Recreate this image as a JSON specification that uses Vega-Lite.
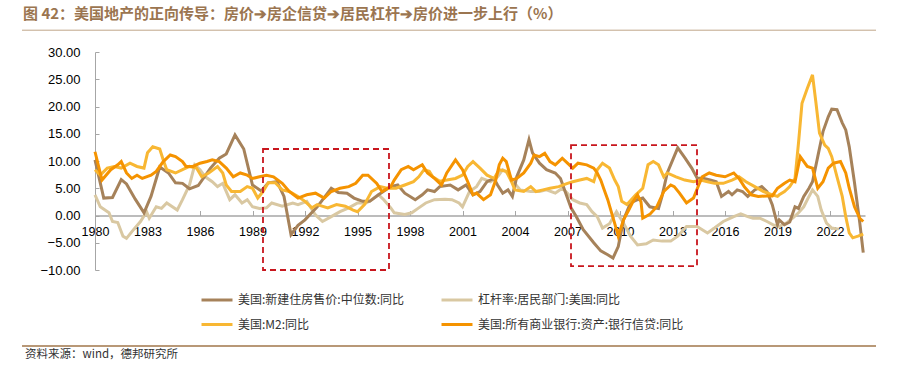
{
  "$schema": "https://vega.github.io/schema/vega-lite/v6.json",
  "width": 770,
  "height": 218,
  "autosize": {"type": "none"},
  "padding": {"left": 95, "top": 52, "right": 32, "bottom": 99},
  "background": "white",
  "config": {"view": {"stroke": null}, "font": "Liberation Sans"},
  "title": {
    "text": "图 42：美国地产的正向传导：房价➔房企信贷➔居民杠杆➔房价进一步上行（%）",
    "anchor": "start",
    "frame": "group",
    "font": "Noto Sans CJK SC",
    "fontSize": 15,
    "fontWeight": "bold",
    "color": "#9B7550",
    "dx": -72,
    "offset": 8
  },
  "datasets": {
    "boxes": [
      {"x1": 1989.6, "x2": 1996.8, "y1": 12.2, "y2": -10},
      {"x1": 2007.2, "x2": 2014.4, "y1": 12.9, "y2": -9.3}
    ],
    "deco": [
      {"x1": 1975.83, "x2": 2024.63, "y": 34.0, "kind": "top"},
      {"x1": 1975.83, "x2": 2024.63, "y": -23.94, "kind": "bottom"}
    ],
    "notes": [
      {"x": 1976.0, "y": -25.6, "text": "资料来源：wind，德邦研究所"}
    ],
    "lines": [
      {"series":"杠杆率:居民部门:美国:同比","year":1980.0,"value":3.8},
      {"series":"杠杆率:居民部门:美国:同比","year":1980.3,"value":1.6},
      {"series":"杠杆率:居民部门:美国:同比","year":1980.8,"value":0.5},
      {"series":"杠杆率:居民部门:美国:同比","year":1981.0,"value":-1.1},
      {"series":"杠杆率:居民部门:美国:同比","year":1981.3,"value":-1.3},
      {"series":"杠杆率:居民部门:美国:同比","year":1981.6,"value":-3.8},
      {"series":"杠杆率:居民部门:美国:同比","year":1981.8,"value":-4.2},
      {"series":"杠杆率:居民部门:美国:同比","year":1982.2,"value":-2.6},
      {"series":"杠杆率:居民部门:美国:同比","year":1982.6,"value":-1.1},
      {"series":"杠杆率:居民部门:美国:同比","year":1982.95,"value":0.7},
      {"series":"杠杆率:居民部门:美国:同比","year":1983.1,"value":-0.5},
      {"series":"杠杆率:居民部门:美国:同比","year":1983.5,"value":1.6},
      {"series":"杠杆率:居民部门:美国:同比","year":1983.8,"value":1.3},
      {"series":"杠杆率:居民部门:美国:同比","year":1984.1,"value":2.3},
      {"series":"杠杆率:居民部门:美国:同比","year":1984.7,"value":1.0},
      {"series":"杠杆率:居民部门:美国:同比","year":1985.0,"value":2.9},
      {"series":"杠杆率:居民部门:美国:同比","year":1985.4,"value":5.6},
      {"series":"杠杆率:居民部门:美国:同比","year":1985.7,"value":9.3},
      {"series":"杠杆率:居民部门:美国:同比","year":1986.0,"value":8.4},
      {"series":"杠杆率:居民部门:美国:同比","year":1986.3,"value":7.1},
      {"series":"杠杆率:居民部门:美国:同比","year":1986.7,"value":6.2},
      {"series":"杠杆率:居民部门:美国:同比","year":1987.0,"value":5.3},
      {"series":"杠杆率:居民部门:美国:同比","year":1987.3,"value":5.9},
      {"series":"杠杆率:居民部门:美国:同比","year":1987.7,"value":2.9},
      {"series":"杠杆率:居民部门:美国:同比","year":1988.0,"value":3.8},
      {"series":"杠杆率:居民部门:美国:同比","year":1988.4,"value":2.3},
      {"series":"杠杆率:居民部门:美国:同比","year":1988.7,"value":2.9},
      {"series":"杠杆率:居民部门:美国:同比","year":1989.0,"value":1.6},
      {"series":"杠杆率:居民部门:美国:同比","year":1989.4,"value":1.3},
      {"series":"杠杆率:居民部门:美国:同比","year":1989.8,"value":1.4},
      {"series":"杠杆率:居民部门:美国:同比","year":1990.1,"value":2.3},
      {"series":"杠杆率:居民部门:美国:同比","year":1990.7,"value":1.7},
      {"series":"杠杆率:居民部门:美国:同比","year":1991.3,"value":2.3},
      {"series":"杠杆率:居民部门:美国:同比","year":1991.6,"value":2.0},
      {"series":"杠杆率:居民部门:美国:同比","year":1992.1,"value":2.6},
      {"series":"杠杆率:居民部门:美国:同比","year":1992.6,"value":0.1},
      {"series":"杠杆率:居民部门:美国:同比","year":1993.0,"value":-1.1},
      {"series":"杠杆率:居民部门:美国:同比","year":1993.5,"value":-0.2},
      {"series":"杠杆率:居民部门:美国:同比","year":1994.0,"value":0.7},
      {"series":"杠杆率:居民部门:美国:同比","year":1994.5,"value":1.4},
      {"series":"杠杆率:居民部门:美国:同比","year":1995.0,"value":2.3},
      {"series":"杠杆率:居民部门:美国:同比","year":1995.5,"value":2.3},
      {"series":"杠杆率:居民部门:美国:同比","year":1995.8,"value":2.9},
      {"series":"杠杆率:居民部门:美国:同比","year":1996.2,"value":3.8},
      {"series":"杠杆率:居民部门:美国:同比","year":1996.5,"value":2.9},
      {"series":"杠杆率:居民部门:美国:同比","year":1996.9,"value":1.4},
      {"series":"杠杆率:居民部门:美国:同比","year":1997.1,"value":0.5},
      {"series":"杠杆率:居民部门:美国:同比","year":1997.7,"value":0.2},
      {"series":"杠杆率:居民部门:美国:同比","year":1998.1,"value":0.5},
      {"series":"杠杆率:居民部门:美国:同比","year":1998.5,"value":1.4},
      {"series":"杠杆率:居民部门:美国:同比","year":1998.9,"value":2.3},
      {"series":"杠杆率:居民部门:美国:同比","year":1999.4,"value":2.9},
      {"series":"杠杆率:居民部门:美国:同比","year":2000.0,"value":3.0},
      {"series":"杠杆率:居民部门:美国:同比","year":2000.4,"value":2.9},
      {"series":"杠杆率:居民部门:美国:同比","year":2000.8,"value":2.3},
      {"series":"杠杆率:居民部门:美国:同比","year":2001.0,"value":1.6},
      {"series":"杠杆率:居民部门:美国:同比","year":2001.4,"value":4.4},
      {"series":"杠杆率:居民部门:美国:同比","year":2001.8,"value":5.3},
      {"series":"杠杆率:居民部门:美国:同比","year":2002.1,"value":6.8},
      {"series":"杠杆率:居民部门:美国:同比","year":2002.6,"value":6.2},
      {"series":"杠杆率:居民部门:美国:同比","year":2003.0,"value":7.1},
      {"series":"杠杆率:居民部门:美国:同比","year":2003.3,"value":8.4},
      {"series":"杠杆率:居民部门:美国:同比","year":2003.6,"value":7.8},
      {"series":"杠杆率:居民部门:美国:同比","year":2003.9,"value":6.2},
      {"series":"杠杆率:居民部门:美国:同比","year":2004.3,"value":4.7},
      {"series":"杠杆率:居民部门:美国:同比","year":2004.9,"value":4.4},
      {"series":"杠杆率:居民部门:美国:同比","year":2005.4,"value":4.4},
      {"series":"杠杆率:居民部门:美国:同比","year":2005.8,"value":4.7},
      {"series":"杠杆率:居民部门:美国:同比","year":2006.3,"value":4.1},
      {"series":"杠杆率:居民部门:美国:同比","year":2006.7,"value":5.0},
      {"series":"杠杆率:居民部门:美国:同比","year":2007.0,"value":4.1},
      {"series":"杠杆率:居民部门:美国:同比","year":2007.3,"value":2.9},
      {"series":"杠杆率:居民部门:美国:同比","year":2007.7,"value":2.3},
      {"series":"杠杆率:居民部门:美国:同比","year":2008.1,"value":2.0},
      {"series":"杠杆率:居民部门:美国:同比","year":2008.4,"value":0.7},
      {"series":"杠杆率:居民部门:美国:同比","year":2008.7,"value":-0.2},
      {"series":"杠杆率:居民部门:美国:同比","year":2009.0,"value":-2.3},
      {"series":"杠杆率:居民部门:美国:同比","year":2009.4,"value":-1.5},
      {"series":"杠杆率:居民部门:美国:同比","year":2009.8,"value":0.7},
      {"series":"杠杆率:居民部门:美国:同比","year":2010.2,"value":-1.4},
      {"series":"杠杆率:居民部门:美国:同比","year":2010.6,"value":-3.8},
      {"series":"杠杆率:居民部门:美国:同比","year":2011.0,"value":-5.4},
      {"series":"杠杆率:居民部门:美国:同比","year":2011.5,"value":-5.2},
      {"series":"杠杆率:居民部门:美国:同比","year":2011.9,"value":-4.5},
      {"series":"杠杆率:居民部门:美国:同比","year":2012.4,"value":-4.7},
      {"series":"杠杆率:居民部门:美国:同比","year":2012.9,"value":-4.7},
      {"series":"杠杆率:居民部门:美国:同比","year":2013.3,"value":-3.8},
      {"series":"杠杆率:居民部门:美国:同比","year":2013.8,"value":-2.0},
      {"series":"杠杆率:居民部门:美国:同比","year":2014.4,"value":-2.0},
      {"series":"杠杆率:居民部门:美国:同比","year":2015.0,"value":-3.2},
      {"series":"杠杆率:居民部门:美国:同比","year":2015.4,"value":-2.3},
      {"series":"杠杆率:居民部门:美国:同比","year":2015.9,"value":-1.1},
      {"series":"杠杆率:居民部门:美国:同比","year":2016.5,"value":-0.2},
      {"series":"杠杆率:居民部门:美国:同比","year":2016.9,"value":0.3},
      {"series":"杠杆率:居民部门:美国:同比","year":2017.3,"value":-0.2},
      {"series":"杠杆率:居民部门:美国:同比","year":2017.6,"value":-0.5},
      {"series":"杠杆率:居民部门:美国:同比","year":2018.0,"value":-0.5},
      {"series":"杠杆率:居民部门:美国:同比","year":2018.4,"value":-1.1},
      {"series":"杠杆率:居民部门:美国:同比","year":2018.8,"value":-1.8},
      {"series":"杠杆率:居民部门:美国:同比","year":2019.1,"value":-2.0},
      {"series":"杠杆率:居民部门:美国:同比","year":2019.5,"value":-1.4},
      {"series":"杠杆率:居民部门:美国:同比","year":2019.9,"value":-0.4},
      {"series":"杠杆率:居民部门:美国:同比","year":2020.2,"value":0.5},
      {"series":"杠杆率:居民部门:美国:同比","year":2020.5,"value":1.6},
      {"series":"杠杆率:居民部门:美国:同比","year":2020.8,"value":3.5},
      {"series":"杠杆率:居民部门:美国:同比","year":2021.0,"value":4.7},
      {"series":"杠杆率:居民部门:美国:同比","year":2021.3,"value":3.5},
      {"series":"杠杆率:居民部门:美国:同比","year":2021.5,"value":1.0},
      {"series":"杠杆率:居民部门:美国:同比","year":2021.8,"value":-1.4},
      {"series":"杠杆率:居民部门:美国:同比","year":2022.1,"value":-2.3},
      {"series":"杠杆率:居民部门:美国:同比","year":2022.5,"value":-2.5},

      {"series":"美国:新建住房售价:中位数:同比","year":1980.0,"value":10.2},
      {"series":"美国:新建住房售价:中位数:同比","year":1980.5,"value":3.2},
      {"series":"美国:新建住房售价:中位数:同比","year":1981.0,"value":3.3},
      {"series":"美国:新建住房售价:中位数:同比","year":1981.5,"value":6.6},
      {"series":"美国:新建住房售价:中位数:同比","year":1981.8,"value":5.8},
      {"series":"美国:新建住房售价:中位数:同比","year":1982.3,"value":3.0},
      {"series":"美国:新建住房售价:中位数:同比","year":1982.8,"value":0.5},
      {"series":"美国:新建住房售价:中位数:同比","year":1983.2,"value":3.5},
      {"series":"美国:新建住房售价:中位数:同比","year":1983.7,"value":8.9},
      {"series":"美国:新建住房售价:中位数:同比","year":1984.2,"value":7.8},
      {"series":"美国:新建住房售价:中位数:同比","year":1984.6,"value":6.0},
      {"series":"美国:新建住房售价:中位数:同比","year":1985.0,"value":5.9},
      {"series":"美国:新建住房售价:中位数:同比","year":1985.4,"value":4.9},
      {"series":"美国:新建住房售价:中位数:同比","year":1985.9,"value":5.5},
      {"series":"美国:新建住房售价:中位数:同比","year":1986.6,"value":8.7},
      {"series":"美国:新建住房售价:中位数:同比","year":1987.1,"value":10.5},
      {"series":"美国:新建住房售价:中位数:同比","year":1987.5,"value":11.3},
      {"series":"美国:新建住房售价:中位数:同比","year":1988.0,"value":14.8},
      {"series":"美国:新建住房售价:中位数:同比","year":1988.5,"value":12.2},
      {"series":"美国:新建住房售价:中位数:同比","year":1989.0,"value":5.6},
      {"series":"美国:新建住房售价:中位数:同比","year":1989.5,"value":4.5},
      {"series":"美国:新建住房售价:中位数:同比","year":1989.9,"value":6.0},
      {"series":"美国:新建住房售价:中位数:同比","year":1990.4,"value":6.2},
      {"series":"美国:新建住房售价:中位数:同比","year":1990.8,"value":3.5},
      {"series":"美国:新建住房售价:中位数:同比","year":1991.2,"value":-3.5},
      {"series":"美国:新建住房售价:中位数:同比","year":1991.6,"value":-1.8},
      {"series":"美国:新建住房售价:中位数:同比","year":1992.0,"value":-0.8},
      {"series":"美国:新建住房售价:中位数:同比","year":1992.7,"value":1.6},
      {"series":"美国:新建住房售价:中位数:同比","year":1993.5,"value":5.0},
      {"series":"美国:新建住房售价:中位数:同比","year":1993.9,"value":4.2},
      {"series":"美国:新建住房售价:中位数:同比","year":1994.4,"value":4.1},
      {"series":"美国:新建住房售价:中位数:同比","year":1994.8,"value":3.2},
      {"series":"美国:新建住房售价:中位数:同比","year":1995.3,"value":2.6},
      {"series":"美国:新建住房售价:中位数:同比","year":1995.7,"value":2.6},
      {"series":"美国:新建住房售价:中位数:同比","year":1996.2,"value":3.8},
      {"series":"美国:新建住房售价:中位数:同比","year":1996.9,"value":5.3},
      {"series":"美国:新建住房售价:中位数:同比","year":1997.3,"value":5.6},
      {"series":"美国:新建住房售价:中位数:同比","year":1997.7,"value":4.1},
      {"series":"美国:新建住房售价:中位数:同比","year":1998.3,"value":2.9},
      {"series":"美国:新建住房售价:中位数:同比","year":1998.7,"value":3.8},
      {"series":"美国:新建住房售价:中位数:同比","year":1999.0,"value":4.7},
      {"series":"美国:新建住房售价:中位数:同比","year":1999.4,"value":4.4},
      {"series":"美国:新建住房售价:中位数:同比","year":1999.7,"value":5.3},
      {"series":"美国:新建住房售价:中位数:同比","year":2000.3,"value":5.6},
      {"series":"美国:新建住房售价:中位数:同比","year":2000.75,"value":4.7},
      {"series":"美国:新建住房售价:中位数:同比","year":2001.2,"value":5.6},
      {"series":"美国:新建住房售价:中位数:同比","year":2001.6,"value":3.8},
      {"series":"美国:新建住房售价:中位数:同比","year":2002.0,"value":4.4},
      {"series":"美国:新建住房售价:中位数:同比","year":2002.4,"value":6.2},
      {"series":"美国:新建住房售价:中位数:同比","year":2002.8,"value":6.8},
      {"series":"美国:新建住房售价:中位数:同比","year":2003.0,"value":5.6},
      {"series":"美国:新建住房售价:中位数:同比","year":2003.3,"value":4.1},
      {"series":"美国:新建住房售价:中位数:同比","year":2003.6,"value":4.7},
      {"series":"美国:新建住房售价:中位数:同比","year":2003.85,"value":3.5},
      {"series":"美国:新建住房售价:中位数:同比","year":2004.1,"value":7.1},
      {"series":"美国:新建住房售价:中位数:同比","year":2004.5,"value":10.2},
      {"series":"美国:新建住房售价:中位数:同比","year":2004.8,"value":13.9},
      {"series":"美国:新建住房售价:中位数:同比","year":2005.0,"value":11.5},
      {"series":"美国:新建住房售价:中位数:同比","year":2005.4,"value":9.6},
      {"series":"美国:新建住房售价:中位数:同比","year":2005.8,"value":8.4},
      {"series":"美国:新建住房售价:中位数:同比","year":2006.3,"value":7.8},
      {"series":"美国:新建住房售价:中位数:同比","year":2006.6,"value":6.8},
      {"series":"美国:新建住房售价:中位数:同比","year":2006.9,"value":4.1},
      {"series":"美国:新建住房售价:中位数:同比","year":2007.2,"value":1.4},
      {"series":"美国:新建住房售价:中位数:同比","year":2007.5,"value":-0.2},
      {"series":"美国:新建住房售价:中位数:同比","year":2007.9,"value":-2.6},
      {"series":"美国:新建住房售价:中位数:同比","year":2008.5,"value":-5.0},
      {"series":"美国:新建住房售价:中位数:同比","year":2008.9,"value":-6.5},
      {"series":"美国:新建住房售价:中位数:同比","year":2009.3,"value":-7.2},
      {"series":"美国:新建住房售价:中位数:同比","year":2009.6,"value":-7.8},
      {"series":"美国:新建住房售价:中位数:同比","year":2009.9,"value":-5.7},
      {"series":"美国:新建住房售价:中位数:同比","year":2010.2,"value":-0.8},
      {"series":"美国:新建住房售价:中位数:同比","year":2010.6,"value":2.3},
      {"series":"美国:新建住房售价:中位数:同比","year":2011.0,"value":2.9},
      {"series":"美国:新建住房售价:中位数:同比","year":2011.3,"value":3.2},
      {"series":"美国:新建住房售价:中位数:同比","year":2011.7,"value":1.6},
      {"series":"美国:新建住房售价:中位数:同比","year":2012.2,"value":1.3},
      {"series":"美国:新建住房售价:中位数:同比","year":2012.4,"value":3.5},
      {"series":"美国:新建住房售价:中位数:同比","year":2012.7,"value":7.8},
      {"series":"美国:新建住房售价:中位数:同比","year":2013.3,"value":12.4},
      {"series":"美国:新建住房售价:中位数:同比","year":2013.7,"value":10.6},
      {"series":"美国:新建住房售价:中位数:同比","year":2014.1,"value":8.7},
      {"series":"美国:新建住房售价:中位数:同比","year":2014.4,"value":6.9},
      {"series":"美国:新建住房售价:中位数:同比","year":2014.8,"value":6.8},
      {"series":"美国:新建住房售价:中位数:同比","year":2015.2,"value":6.5},
      {"series":"美国:新建住房售价:中位数:同比","year":2015.5,"value":6.2},
      {"series":"美国:新建住房售价:中位数:同比","year":2015.8,"value":3.5},
      {"series":"美国:新建住房售价:中位数:同比","year":2016.2,"value":4.4},
      {"series":"美国:新建住房售价:中位数:同比","year":2016.4,"value":3.8},
      {"series":"美国:新建住房售价:中位数:同比","year":2016.7,"value":4.7},
      {"series":"美国:新建住房售价:中位数:同比","year":2017.0,"value":4.4},
      {"series":"美国:新建住房售价:中位数:同比","year":2017.3,"value":3.5},
      {"series":"美国:新建住房售价:中位数:同比","year":2017.7,"value":4.7},
      {"series":"美国:新建住房售价:中位数:同比","year":2018.1,"value":5.3},
      {"series":"美国:新建住房售价:中位数:同比","year":2018.4,"value":4.4},
      {"series":"美国:新建住房售价:中位数:同比","year":2018.7,"value":2.0},
      {"series":"美国:新建住房售价:中位数:同比","year":2019.0,"value":-1.7},
      {"series":"美国:新建住房售价:中位数:同比","year":2019.1,"value":-0.8},
      {"series":"美国:新建住房售价:中位数:同比","year":2019.4,"value":-1.7},
      {"series":"美国:新建住房售价:中位数:同比","year":2019.7,"value":-1.2},
      {"series":"美国:新建住房售价:中位数:同比","year":2020.0,"value":1.6},
      {"series":"美国:新建住房售价:中位数:同比","year":2020.2,"value":1.3},
      {"series":"美国:新建住房售价:中位数:同比","year":2020.5,"value":3.5},
      {"series":"美国:新建住房售价:中位数:同比","year":2020.8,"value":5.0},
      {"series":"美国:新建住房售价:中位数:同比","year":2021.0,"value":6.2},
      {"series":"美国:新建住房售价:中位数:同比","year":2021.3,"value":10.8},
      {"series":"美国:新建住房售价:中位数:同比","year":2021.6,"value":15.4},
      {"series":"美国:新建住房售价:中位数:同比","year":2021.9,"value":18.1},
      {"series":"美国:新建住房售价:中位数:同比","year":2022.1,"value":19.5},
      {"series":"美国:新建住房售价:中位数:同比","year":2022.4,"value":19.4},
      {"series":"美国:新建住房售价:中位数:同比","year":2022.7,"value":17.0},
      {"series":"美国:新建住房售价:中位数:同比","year":2022.9,"value":15.7},
      {"series":"美国:新建住房售价:中位数:同比","year":2023.1,"value":12.6},
      {"series":"美国:新建住房售价:中位数:同比","year":2023.4,"value":6.0},
      {"series":"美国:新建住房售价:中位数:同比","year":2023.7,"value":-1.3},
      {"series":"美国:新建住房售价:中位数:同比","year":2023.9,"value":-6.8},

      {"series":"美国:M2:同比","year":1980.0,"value":8.4},
      {"series":"美国:M2:同比","year":1980.3,"value":7.4},
      {"series":"美国:M2:同比","year":1980.7,"value":8.7},
      {"series":"美国:M2:同比","year":1981.1,"value":9.0},
      {"series":"美国:M2:同比","year":1981.5,"value":8.7},
      {"series":"美国:M2:同比","year":1982.0,"value":9.6},
      {"series":"美国:M2:同比","year":1982.4,"value":9.0},
      {"series":"美国:M2:同比","year":1982.8,"value":8.7},
      {"series":"美国:M2:同比","year":1983.0,"value":11.5},
      {"series":"美国:M2:同比","year":1983.3,"value":12.6},
      {"series":"美国:M2:同比","year":1983.7,"value":12.2},
      {"series":"美国:M2:同比","year":1983.9,"value":10.2},
      {"series":"美国:M2:同比","year":1984.1,"value":8.4},
      {"series":"美国:M2:同比","year":1984.6,"value":7.8},
      {"series":"美国:M2:同比","year":1985.0,"value":8.4},
      {"series":"美国:M2:同比","year":1985.4,"value":9.0},
      {"series":"美国:M2:同比","year":1985.8,"value":8.7},
      {"series":"美国:M2:同比","year":1986.1,"value":7.1},
      {"series":"美国:M2:同比","year":1986.5,"value":7.8},
      {"series":"美国:M2:同比","year":1987.0,"value":9.0},
      {"series":"美国:M2:同比","year":1987.3,"value":7.8},
      {"series":"美国:M2:同比","year":1987.5,"value":5.6},
      {"series":"美国:M2:同比","year":1987.8,"value":4.4},
      {"series":"美国:M2:同比","year":1988.3,"value":4.4},
      {"series":"美国:M2:同比","year":1988.7,"value":5.3},
      {"series":"美国:M2:同比","year":1989.0,"value":5.0},
      {"series":"美国:M2:同比","year":1989.3,"value":3.2},
      {"series":"美国:M2:同比","year":1989.6,"value":4.4},
      {"series":"美国:M2:同比","year":1989.9,"value":6.0},
      {"series":"美国:M2:同比","year":1990.3,"value":6.0},
      {"series":"美国:M2:同比","year":1990.7,"value":4.7},
      {"series":"美国:M2:同比","year":1991.1,"value":4.4},
      {"series":"美国:M2:同比","year":1991.6,"value":3.5},
      {"series":"美国:M2:同比","year":1992.0,"value":2.6},
      {"series":"美国:M2:同比","year":1992.4,"value":1.4},
      {"series":"美国:M2:同比","year":1992.7,"value":2.0},
      {"series":"美国:M2:同比","year":1993.3,"value":1.4},
      {"series":"美国:M2:同比","year":1993.8,"value":2.0},
      {"series":"美国:M2:同比","year":1994.3,"value":1.7},
      {"series":"美国:M2:同比","year":1994.75,"value":1.0},
      {"series":"美国:M2:同比","year":1995.0,"value":0.7},
      {"series":"美国:M2:同比","year":1995.4,"value":2.0},
      {"series":"美国:M2:同比","year":1995.8,"value":4.4},
      {"series":"美国:M2:同比","year":1996.3,"value":5.3},
      {"series":"美国:M2:同比","year":1996.7,"value":5.0},
      {"series":"美国:M2:同比","year":1997.2,"value":5.0},
      {"series":"美国:M2:同比","year":1997.7,"value":5.6},
      {"series":"美国:M2:同比","year":1998.2,"value":6.2},
      {"series":"美国:M2:同比","year":1998.5,"value":7.1},
      {"series":"美国:M2:同比","year":1998.8,"value":8.4},
      {"series":"美国:M2:同比","year":1999.1,"value":8.1},
      {"series":"美国:M2:同比","year":1999.3,"value":7.1},
      {"series":"美国:M2:同比","year":1999.7,"value":6.3},
      {"series":"美国:M2:同比","year":2000.1,"value":6.5},
      {"series":"美国:M2:同比","year":2000.6,"value":6.8},
      {"series":"美国:M2:同比","year":2001.0,"value":7.4},
      {"series":"美国:M2:同比","year":2001.3,"value":9.0},
      {"series":"美国:M2:同比","year":2001.6,"value":9.9},
      {"series":"美国:M2:同比","year":2002.0,"value":8.7},
      {"series":"美国:M2:同比","year":2002.4,"value":7.4},
      {"series":"美国:M2:同比","year":2002.8,"value":6.8},
      {"series":"美国:M2:同比","year":2003.1,"value":8.4},
      {"series":"美国:M2:同比","year":2003.5,"value":8.1},
      {"series":"美国:M2:同比","year":2003.8,"value":6.2},
      {"series":"美国:M2:同比","year":2004.0,"value":4.7},
      {"series":"美国:M2:同比","year":2004.5,"value":4.4},
      {"series":"美国:M2:同比","year":2004.9,"value":5.3},
      {"series":"美国:M2:同比","year":2005.2,"value":4.4},
      {"series":"美国:M2:同比","year":2005.6,"value":4.7},
      {"series":"美国:M2:同比","year":2006.0,"value":5.0},
      {"series":"美国:M2:同比","year":2006.5,"value":5.3},
      {"series":"美国:M2:同比","year":2007.0,"value":5.9},
      {"series":"美国:M2:同比","year":2007.3,"value":6.2},
      {"series":"美国:M2:同比","year":2007.7,"value":6.5},
      {"series":"美国:M2:同比","year":2008.1,"value":6.8},
      {"series":"美国:M2:同比","year":2008.5,"value":6.2},
      {"series":"美国:M2:同比","year":2008.7,"value":8.4},
      {"series":"美国:M2:同比","year":2009.0,"value":9.6},
      {"series":"美国:M2:同比","year":2009.4,"value":8.7},
      {"series":"美国:M2:同比","year":2009.7,"value":6.5},
      {"series":"美国:M2:同比","year":2009.9,"value":5.3},
      {"series":"美国:M2:同比","year":2010.1,"value":2.6},
      {"series":"美国:M2:同比","year":2010.4,"value":2.0},
      {"series":"美国:M2:同比","year":2010.9,"value":3.8},
      {"series":"美国:M2:同比","year":2011.3,"value":5.0},
      {"series":"美国:M2:同比","year":2011.6,"value":9.3},
      {"series":"美国:M2:同比","year":2011.9,"value":9.9},
      {"series":"美国:M2:同比","year":2012.2,"value":9.3},
      {"series":"美国:M2:同比","year":2012.5,"value":7.1},
      {"series":"美国:M2:同比","year":2012.7,"value":7.8},
      {"series":"美国:M2:同比","year":2013.2,"value":7.1},
      {"series":"美国:M2:同比","year":2013.7,"value":6.5},
      {"series":"美国:M2:同比","year":2014.2,"value":6.2},
      {"series":"美国:M2:同比","year":2014.6,"value":6.5},
      {"series":"美国:M2:同比","year":2015.0,"value":6.2},
      {"series":"美国:M2:同比","year":2015.4,"value":5.9},
      {"series":"美国:M2:同比","year":2015.9,"value":5.9},
      {"series":"美国:M2:同比","year":2016.4,"value":6.5},
      {"series":"美国:M2:同比","year":2016.8,"value":7.1},
      {"series":"美国:M2:同比","year":2017.2,"value":6.2},
      {"series":"美国:M2:同比","year":2017.7,"value":5.3},
      {"series":"美国:M2:同比","year":2018.2,"value":4.4},
      {"series":"美国:M2:同比","year":2018.7,"value":3.8},
      {"series":"美国:M2:同比","year":2019.0,"value":3.5},
      {"series":"美国:M2:同比","year":2019.1,"value":3.8},
      {"series":"美国:M2:同比","year":2019.4,"value":4.4},
      {"series":"美国:M2:同比","year":2019.7,"value":5.3},
      {"series":"美国:M2:同比","year":2020.0,"value":6.8},
      {"series":"美国:M2:同比","year":2020.2,"value":13.3},
      {"series":"美国:M2:同比","year":2020.4,"value":20.6},
      {"series":"美国:M2:同比","year":2020.7,"value":23.3},
      {"series":"美国:M2:同比","year":2021.0,"value":25.8},
      {"series":"美国:M2:同比","year":2021.2,"value":20.6},
      {"series":"美国:M2:同比","year":2021.4,"value":15.1},
      {"series":"美国:M2:同比","year":2021.7,"value":12.9},
      {"series":"美国:M2:同比","year":2021.9,"value":12.3},
      {"series":"美国:M2:同比","year":2022.1,"value":10.8},
      {"series":"美国:M2:同比","year":2022.4,"value":7.1},
      {"series":"美国:M2:同比","year":2022.7,"value":3.5},
      {"series":"美国:M2:同比","year":2022.9,"value":-0.2},
      {"series":"美国:M2:同比","year":2023.1,"value":-3.2},
      {"series":"美国:M2:同比","year":2023.3,"value":-4.1},
      {"series":"美国:M2:同比","year":2023.6,"value":-3.8},
      {"series":"美国:M2:同比","year":2023.9,"value":-3.4},

      {"series":"美国:所有商业银行:资产:银行信贷:同比","year":1980.0,"value":11.7},
      {"series":"美国:所有商业银行:资产:银行信贷:同比","year":1980.4,"value":6.5},
      {"series":"美国:所有商业银行:资产:银行信贷:同比","year":1980.9,"value":8.4},
      {"series":"美国:所有商业银行:资产:银行信贷:同比","year":1981.3,"value":9.3},
      {"series":"美国:所有商业银行:资产:银行信贷:同比","year":1981.5,"value":9.9},
      {"series":"美国:所有商业银行:资产:银行信贷:同比","year":1981.8,"value":7.8},
      {"series":"美国:所有商业银行:资产:银行信贷:同比","year":1982.1,"value":6.8},
      {"series":"美国:所有商业银行:资产:银行信贷:同比","year":1982.4,"value":7.4},
      {"series":"美国:所有商业银行:资产:银行信贷:同比","year":1982.7,"value":6.8},
      {"series":"美国:所有商业银行:资产:银行信贷:同比","year":1983.2,"value":7.4},
      {"series":"美国:所有商业银行:资产:银行信贷:同比","year":1983.5,"value":8.1},
      {"series":"美国:所有商业银行:资产:银行信贷:同比","year":1983.9,"value":9.9},
      {"series":"美国:所有商业银行:资产:银行信贷:同比","year":1984.3,"value":11.1},
      {"series":"美国:所有商业银行:资产:银行信贷:同比","year":1984.6,"value":10.8},
      {"series":"美国:所有商业银行:资产:银行信贷:同比","year":1985.0,"value":9.9},
      {"series":"美国:所有商业银行:资产:银行信贷:同比","year":1985.2,"value":9.0},
      {"series":"美国:所有商业银行:资产:银行信贷:同比","year":1985.6,"value":9.0},
      {"series":"美国:所有商业银行:资产:银行信贷:同比","year":1986.0,"value":9.6},
      {"series":"美国:所有商业银行:资产:银行信贷:同比","year":1986.4,"value":9.9},
      {"series":"美国:所有商业银行:资产:银行信贷:同比","year":1986.7,"value":10.2},
      {"series":"美国:所有商业银行:资产:银行信贷:同比","year":1987.1,"value":9.9},
      {"series":"美国:所有商业银行:资产:银行信贷:同比","year":1987.5,"value":8.7},
      {"series":"美国:所有商业银行:资产:银行信贷:同比","year":1987.9,"value":7.1},
      {"series":"美国:所有商业银行:资产:银行信贷:同比","year":1988.3,"value":7.8},
      {"series":"美国:所有商业银行:资产:银行信贷:同比","year":1988.7,"value":7.4},
      {"series":"美国:所有商业银行:资产:银行信贷:同比","year":1989.0,"value":6.8},
      {"series":"美国:所有商业银行:资产:银行信贷:同比","year":1989.4,"value":7.1},
      {"series":"美国:所有商业银行:资产:银行信贷:同比","year":1989.8,"value":7.4},
      {"series":"美国:所有商业银行:资产:银行信贷:同比","year":1990.2,"value":7.1},
      {"series":"美国:所有商业银行:资产:银行信贷:同比","year":1990.7,"value":5.9},
      {"series":"美国:所有商业银行:资产:银行信贷:同比","year":1991.1,"value":4.4},
      {"series":"美国:所有商业银行:资产:银行信贷:同比","year":1991.6,"value":3.2},
      {"series":"美国:所有商业银行:资产:银行信贷:同比","year":1992.1,"value":3.8},
      {"series":"美国:所有商业银行:资产:银行信贷:同比","year":1992.6,"value":4.1},
      {"series":"美国:所有商业银行:资产:银行信贷:同比","year":1993.1,"value":3.2},
      {"series":"美国:所有商业银行:资产:银行信贷:同比","year":1993.5,"value":4.4},
      {"series":"美国:所有商业银行:资产:银行信贷:同比","year":1994.0,"value":5.0},
      {"series":"美国:所有商业银行:资产:银行信贷:同比","year":1994.5,"value":5.3},
      {"series":"美国:所有商业银行:资产:银行信贷:同比","year":1994.9,"value":5.9},
      {"series":"美国:所有商业银行:资产:银行信贷:同比","year":1995.3,"value":7.4},
      {"series":"美国:所有商业银行:资产:银行信贷:同比","year":1995.6,"value":7.4},
      {"series":"美国:所有商业银行:资产:银行信贷:同比","year":1996.1,"value":5.9},
      {"series":"美国:所有商业银行:资产:银行信贷:同比","year":1996.4,"value":4.4},
      {"series":"美国:所有商业银行:资产:银行信贷:同比","year":1996.9,"value":5.3},
      {"series":"美国:所有商业银行:资产:银行信贷:同比","year":1997.1,"value":6.5},
      {"series":"美国:所有商业银行:资产:银行信贷:同比","year":1997.5,"value":8.4},
      {"series":"美国:所有商业银行:资产:银行信贷:同比","year":1997.9,"value":9.0},
      {"series":"美国:所有商业银行:资产:银行信贷:同比","year":1998.2,"value":8.4},
      {"series":"美国:所有商业银行:资产:银行信贷:同比","year":1998.7,"value":9.3},
      {"series":"美国:所有商业银行:资产:银行信贷:同比","year":1999.0,"value":7.8},
      {"series":"美国:所有商业银行:资产:银行信贷:同比","year":1999.4,"value":6.8},
      {"series":"美国:所有商业银行:资产:银行信贷:同比","year":1999.8,"value":5.6},
      {"series":"美国:所有商业银行:资产:银行信贷:同比","year":2000.1,"value":7.8},
      {"series":"美国:所有商业银行:资产:银行信贷:同比","year":2000.6,"value":10.2},
      {"series":"美国:所有商业银行:资产:银行信贷:同比","year":2001.0,"value":8.4},
      {"series":"美国:所有商业银行:资产:银行信贷:同比","year":2001.3,"value":6.2},
      {"series":"美国:所有商业银行:资产:银行信贷:同比","year":2001.6,"value":3.8},
      {"series":"美国:所有商业银行:资产:银行信贷:同比","year":2001.8,"value":4.1},
      {"series":"美国:所有商业银行:资产:银行信贷:同比","year":2002.2,"value":2.9},
      {"series":"美国:所有商业银行:资产:银行信贷:同比","year":2002.6,"value":3.8},
      {"series":"美国:所有商业银行:资产:银行信贷:同比","year":2002.9,"value":6.5},
      {"series":"美国:所有商业银行:资产:银行信贷:同比","year":2003.1,"value":9.3},
      {"series":"美国:所有商业银行:资产:银行信贷:同比","year":2003.3,"value":10.5},
      {"series":"美国:所有商业银行:资产:银行信贷:同比","year":2003.5,"value":9.9},
      {"series":"美国:所有商业银行:资产:银行信贷:同比","year":2003.8,"value":6.5},
      {"series":"美国:所有商业银行:资产:银行信贷:同比","year":2004.1,"value":6.8},
      {"series":"美国:所有商业银行:资产:银行信贷:同比","year":2004.5,"value":7.8},
      {"series":"美国:所有商业银行:资产:银行信贷:同比","year":2004.9,"value":9.6},
      {"series":"美国:所有商业银行:资产:银行信贷:同比","year":2005.1,"value":11.1},
      {"series":"美国:所有商业银行:资产:银行信贷:同比","year":2005.4,"value":10.8},
      {"series":"美国:所有商业银行:资产:银行信贷:同比","year":2005.7,"value":11.4},
      {"series":"美国:所有商业银行:资产:银行信贷:同比","year":2006.0,"value":9.9},
      {"series":"美国:所有商业银行:资产:银行信贷:同比","year":2006.3,"value":9.3},
      {"series":"美国:所有商业银行:资产:银行信贷:同比","year":2006.5,"value":9.9},
      {"series":"美国:所有商业银行:资产:银行信贷:同比","year":2006.7,"value":10.5},
      {"series":"美国:所有商业银行:资产:银行信贷:同比","year":2007.0,"value":9.6},
      {"series":"美国:所有商业银行:资产:银行信贷:同比","year":2007.3,"value":8.7},
      {"series":"美国:所有商业银行:资产:银行信贷:同比","year":2007.6,"value":9.6},
      {"series":"美国:所有商业银行:资产:银行信贷:同比","year":2008.1,"value":9.3},
      {"series":"美国:所有商业银行:资产:银行信贷:同比","year":2008.5,"value":8.7},
      {"series":"美国:所有商业银行:资产:银行信贷:同比","year":2008.7,"value":7.8},
      {"series":"美国:所有商业银行:资产:银行信贷:同比","year":2008.9,"value":6.5},
      {"series":"美国:所有商业银行:资产:银行信贷:同比","year":2009.1,"value":4.7},
      {"series":"美国:所有商业银行:资产:银行信贷:同比","year":2009.3,"value":2.9},
      {"series":"美国:所有商业银行:资产:银行信贷:同比","year":2009.5,"value":0.7},
      {"series":"美国:所有商业银行:资产:银行信贷:同比","year":2009.8,"value":-2.6},
      {"series":"美国:所有商业银行:资产:银行信贷:同比","year":2009.9,"value":-3.8},
      {"series":"美国:所有商业银行:资产:银行信贷:同比","year":2010.2,"value":-0.8},
      {"series":"美国:所有商业银行:资产:银行信贷:同比","year":2010.5,"value":1.0},
      {"series":"美国:所有商业银行:资产:银行信贷:同比","year":2010.7,"value":2.3},
      {"series":"美国:所有商业银行:资产:银行信贷:同比","year":2011.0,"value":3.8},
      {"series":"美国:所有商业银行:资产:银行信贷:同比","year":2011.2,"value":2.5},
      {"series":"美国:所有商业银行:资产:银行信贷:同比","year":2011.3,"value":-0.5},
      {"series":"美国:所有商业银行:资产:银行信贷:同比","year":2011.7,"value":0.2},
      {"series":"美国:所有商业银行:资产:银行信贷:同比","year":2012.1,"value":1.6},
      {"series":"美国:所有商业银行:资产:银行信贷:同比","year":2012.5,"value":4.4},
      {"series":"美国:所有商业银行:资产:银行信贷:同比","year":2012.9,"value":5.6},
      {"series":"美国:所有商业银行:资产:银行信贷:同比","year":2013.1,"value":5.3},
      {"series":"美国:所有商业银行:资产:银行信贷:同比","year":2013.4,"value":4.1},
      {"series":"美国:所有商业银行:资产:银行信贷:同比","year":2013.8,"value":2.3},
      {"series":"美国:所有商业银行:资产:银行信贷:同比","year":2014.2,"value":3.2},
      {"series":"美国:所有商业银行:资产:银行信贷:同比","year":2014.5,"value":5.6},
      {"series":"美国:所有商业银行:资产:银行信贷:同比","year":2014.7,"value":7.1},
      {"series":"美国:所有商业银行:资产:银行信贷:同比","year":2015.1,"value":7.8},
      {"series":"美国:所有商业银行:资产:银行信贷:同比","year":2015.5,"value":7.4},
      {"series":"美国:所有商业银行:资产:银行信贷:同比","year":2016.0,"value":7.1},
      {"series":"美国:所有商业银行:资产:银行信贷:同比","year":2016.5,"value":7.8},
      {"series":"美国:所有商业银行:资产:银行信贷:同比","year":2016.8,"value":6.8},
      {"series":"美国:所有商业银行:资产:银行信贷:同比","year":2017.1,"value":5.3},
      {"series":"美国:所有商业银行:资产:银行信贷:同比","year":2017.5,"value":3.8},
      {"series":"美国:所有商业银行:资产:银行信贷:同比","year":2017.9,"value":3.5},
      {"series":"美国:所有商业银行:资产:银行信贷:同比","year":2018.4,"value":3.6},
      {"series":"美国:所有商业银行:资产:银行信贷:同比","year":2018.7,"value":3.6},
      {"series":"美国:所有商业银行:资产:银行信贷:同比","year":2019.0,"value":5.0},
      {"series":"美国:所有商业银行:资产:银行信贷:同比","year":2019.4,"value":5.9},
      {"series":"美国:所有商业银行:资产:银行信贷:同比","year":2019.7,"value":6.5},
      {"series":"美国:所有商业银行:资产:银行信贷:同比","year":2020.0,"value":6.2},
      {"series":"美国:所有商业银行:资产:银行信贷:同比","year":2020.3,"value":10.8},
      {"series":"美国:所有商业银行:资产:银行信贷:同比","year":2020.7,"value":9.0},
      {"series":"美国:所有商业银行:资产:银行信贷:同比","year":2021.0,"value":8.7},
      {"series":"美国:所有商业银行:资产:银行信贷:同比","year":2021.3,"value":5.0},
      {"series":"美国:所有商业银行:资产:银行信贷:同比","year":2021.6,"value":6.2},
      {"series":"美国:所有商业银行:资产:银行信贷:同比","year":2021.9,"value":8.7},
      {"series":"美国:所有商业银行:资产:银行信贷:同比","year":2022.2,"value":9.6},
      {"series":"美国:所有商业银行:资产:银行信贷:同比","year":2022.6,"value":9.9},
      {"series":"美国:所有商业银行:资产:银行信贷:同比","year":2022.9,"value":7.8},
      {"series":"美国:所有商业银行:资产:银行信贷:同比","year":2023.1,"value":5.0},
      {"series":"美国:所有商业银行:资产:银行信贷:同比","year":2023.4,"value":1.6},
      {"series":"美国:所有商业银行:资产:银行信贷:同比","year":2023.7,"value":-0.5},
      {"series":"美国:所有商业银行:资产:银行信贷:同比","year":2023.9,"value":-1.1}
    ]
  },
  "encoding": {
    "x": {
      "type": "quantitative",
      "scale": {"domain": [1980, 2024], "nice": false, "zero": false},
      "axis": {
        "values": [1980, 1983, 1986, 1989, 1992, 1995, 1998, 2001, 2004, 2007, 2010, 2013, 2016, 2019, 2022],
        "format": "d", "title": null, "grid": false,
        "offset": -54.5,
        "domainColor": "#A6A6A6", "domainWidth": 1.5,
        "tickColor": "#A6A6A6", "tickSize": -5, "tickWidth": 1,
        "labelPadding": 15, "labelFont": "Liberation Sans", "labelFontSize": 12.5,
        "labelColor": "#000000", "labelFlush": false, "labelOverlap": false
      }
    },
    "y": {
      "type": "quantitative",
      "scale": {"domain": [-10, 30], "nice": false, "zero": false},
      "axis": {
        "values": [-10, -5, 0, 5, 10, 15, 20, 25, 30],
        "tickCount": 9,
        "format": ".2f", "title": null, "grid": false,
        "domainColor": "#A6A6A6", "domainWidth": 1,
        "tickColor": "#A6A6A6", "tickSize": -4,
        "labelPadding": 19, "labelFont": "Liberation Sans", "labelFontSize": 13,
        "labelColor": "#000000", "labelOverlap": false
      }
    }
  },
  "layer": [
    {
      "data": {"name": "lines"},
      "mark": {"type": "line", "strokeWidth": 3, "interpolate": "linear"},
      "encoding": {
        "x": {"field": "year"},
        "y": {"field": "value"},
        "color": {
          "field": "series", "type": "nominal",
          "scale": {
            "domain": ["美国:新建住房售价:中位数:同比", "杠杆率:居民部门:美国:同比", "美国:M2:同比", "美国:所有商业银行:资产:银行信贷:同比"],
            "range": ["#A6825A", "#D9C8A2", "#F8B733", "#F59300"]
          },
          "legend": {
            "orient": "none", "legendX": 105, "legendY": 231,
            "direction": "horizontal", "columns": 2, "title": null, "padding": 0,
            "symbolType": "stroke", "symbolSize": 960, "symbolStrokeWidth": 3,
            "labelFont": "Noto Sans CJK SC", "labelFontSize": 12, "labelColor": "#333333",
            "labelOffset": 4, "labelLimit": 400, "columnPadding": 30, "rowPadding": 1.5
          }
        },
        "order": {"field": "year", "type": "quantitative"}
      }
    },
    {
      "data": {"name": "boxes"},
      "mark": {"type": "rect", "fill": null, "filled": false, "stroke": "#C8161D", "strokeWidth": 1.8, "strokeDash": [6, 4]},
      "encoding": {
        "x": {"field": "x1"},
        "x2": {"field": "x2"},
        "y": {"field": "y1"},
        "y2": {"field": "y2"}
      }
    },
    {
      "data": {"name": "deco"},
      "mark": {"type": "rule"},
      "encoding": {
        "x": {"field": "x1"},
        "x2": {"field": "x2"},
        "y": {"field": "y"},
        "color": {"condition": {"test": "datum.kind === 'top'", "value": "#BFA588"}, "value": "#A0764A"},
        "strokeWidth": {"condition": {"test": "datum.kind === 'top'", "value": 1}, "value": 1.5}
      }
    },
    {
      "data": {"name": "notes"},
      "mark": {"type": "text", "align": "left", "baseline": "middle", "font": "Noto Sans CJK SC", "fontSize": 11.5, "color": "#333333"},
      "encoding": {
        "x": {"field": "x"},
        "y": {"field": "y"},
        "text": {"field": "text"}
      }
    }
  ]
}
